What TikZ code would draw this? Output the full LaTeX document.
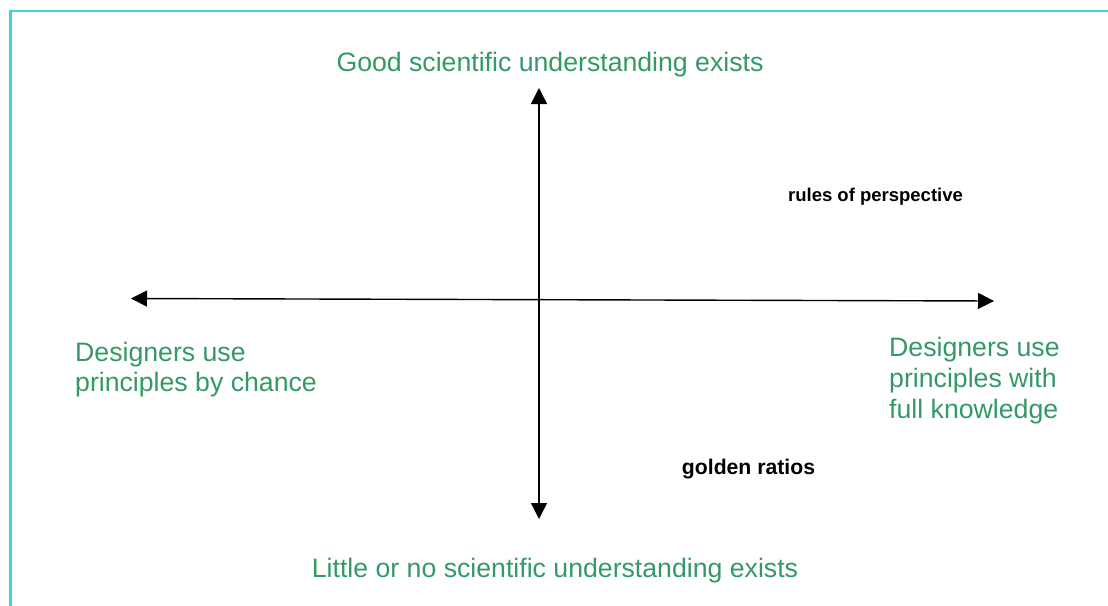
\documentclass[tikz,border=0pt]{standalone}
\usepackage{fontspec}
\setmainfont{Liberation Sans}
\usetikzlibrary{arrows.meta}
\definecolor{axisgreen}{HTML}{339966}
\definecolor{frameteal}{HTML}{40D6D0}
\tikzset{
  biglabel/.style={text=axisgreen, inner sep=0pt, font=\fontsize{26.67}{30.8}\selectfont},
  smalllabel/.style={text=black, inner sep=0pt, font=\bfseries\fontsize{18.5}{22}\selectfont},
  axis/.style={line width=1.4pt, draw=black,
    {Triangle[length=16pt,width=16pt]}-{Triangle[length=16pt,width=16pt]}},
  frame/.style={line width=2.2pt, draw=frameteal}
}
\begin{document}
\begin{tikzpicture}[x=1pt,y=-1pt]
\useasboundingbox (0,0) rectangle (1108,605);
% frame along the top and left edges
\draw[frame] (10.5,620) -- (10.5,11) -- (1120,11);

% axis end points
\coordinate (top) at (539,88);
\coordinate (bottom) at (539,519);
\coordinate (left) at (131,298.5);
\coordinate (right) at (994,301);

\draw[axis] (bottom) -- (top);
\draw[axis] (left) -- (right);

% axis labels
\node[biglabel] (goodsci) at (550,64.5) {Good scientific understanding exists};
\node[biglabel] (nosci) at (555,570.5) {Little or no scientific understanding exists};
\node[biglabel, align=left, anchor=west] (chance) at (75,369.5) {Designers use\\principles by chance};
\node[biglabel, align=left, anchor=west] (knowledge) at (889,380.5) {Designers use\\principles with\\full knowledge};

% examples placed in the plane
\node[smalllabel] (perspective) at (875.5,196.5) {rules of perspective};
\node[smalllabel, font=\bfseries\fontsize{21.2}{25}\selectfont] (golden) at (748.5,469) {golden ratios};
\end{tikzpicture}
\end{document}
